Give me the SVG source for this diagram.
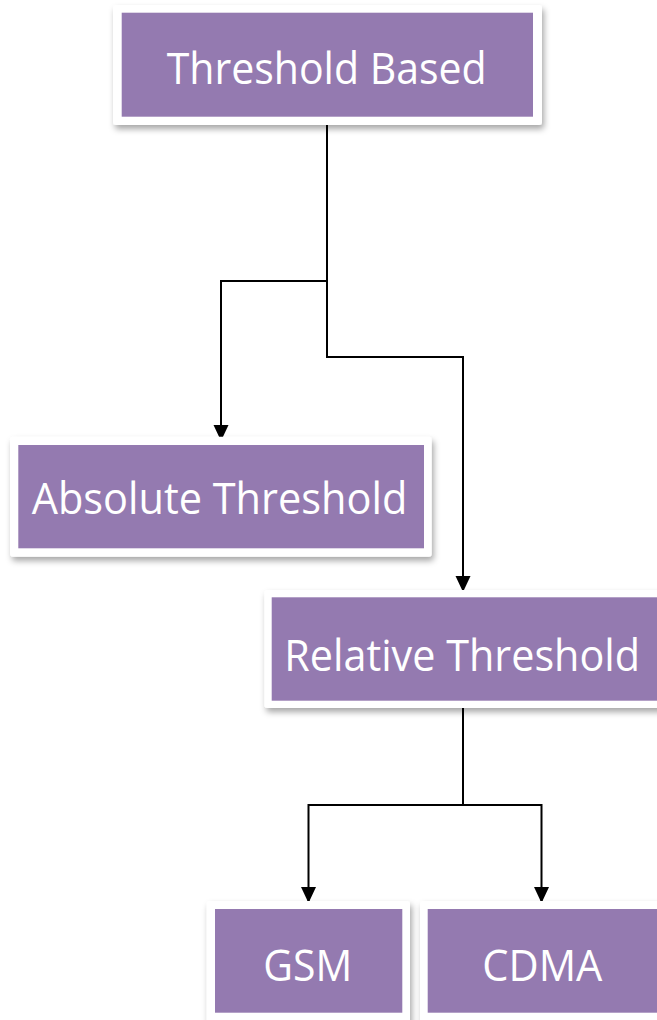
<svg xmlns="http://www.w3.org/2000/svg" width="657" height="1020" viewBox="0 0 657 1020">
  <defs>
    <filter id="shadow" x="-10%" y="-10%" width="125%" height="130%">
      <feDropShadow dx="2" dy="4" stdDeviation="3" flood-color="#000" flood-opacity="0.35"/>
    </filter>
    <marker id="arrow" markerUnits="userSpaceOnUse" markerWidth="17" markerHeight="16" refX="16" refY="7.5" orient="auto">
      <path d="M0,0 L16,7.5 L0,15 z" fill="#000"/>
    </marker>
  </defs>
  <style>
    .frame { fill: #ffffff; filter: url(#shadow); }
    .fill { fill: #947ab0; }
    .label { fill: #ffffff; font-family: "Open Sans", "Noto Sans", sans-serif; font-size: 43px; text-anchor: middle; }
    .conn { fill: none; stroke: #000; stroke-width: 2; }
  </style>
  <rect width="657" height="1020" fill="#ffffff"/>
  <g id="connectors">
    <path class="conn" d="M327,125 V281 H221 V441" marker-end="url(#arrow)"/>
    <path class="conn" d="M327,281 V357 H463 V592" marker-end="url(#arrow)"/>
    <path class="conn" d="M463,708 V805 H308.5 V903" marker-end="url(#arrow)"/>
    <path class="conn" d="M463,805 H541.5 V903" marker-end="url(#arrow)"/>
  </g>
  <g id="threshold-based">
    <rect class="frame" x="113" y="5" width="429" height="120" rx="3"/>
    <rect class="fill" x="121.7" y="12.7" width="411.3" height="104"/>
    <text class="label" x="326.7" y="83.5" textLength="320" lengthAdjust="spacingAndGlyphs">Threshold Based</text>
  </g>
  <g id="absolute-threshold">
    <rect class="frame" x="10" y="436.7" width="421.7" height="120" rx="3"/>
    <rect class="fill" x="18.3" y="445" width="405.7" height="103.3"/>
    <text class="label" x="219.5" y="514" textLength="375.6" lengthAdjust="spacingAndGlyphs">Absolute Threshold</text>
  </g>
  <g id="relative-threshold">
    <rect class="frame" x="264.3" y="590" width="420" height="118" rx="3"/>
    <rect class="fill" x="271.7" y="597.3" width="420" height="103.4"/>
    <text class="label" x="462.2" y="670.5" textLength="355.7" lengthAdjust="spacingAndGlyphs">Relative Threshold</text>
  </g>
  <g id="gsm">
    <rect class="frame" x="206.7" y="901" width="203.3" height="125" rx="3"/>
    <rect class="fill" x="215" y="909" width="187.3" height="103.7"/>
    <text class="label" x="307.8" y="980.5" textLength="89" lengthAdjust="spacingAndGlyphs">GSM</text>
  </g>
  <g id="cdma">
    <rect class="frame" x="420" y="901" width="260" height="125" rx="3"/>
    <rect class="fill" x="427.7" y="909" width="260" height="103.7"/>
    <text class="label" x="542.3" y="980.5" textLength="120" lengthAdjust="spacingAndGlyphs">CDMA</text>
  </g>
</svg>
